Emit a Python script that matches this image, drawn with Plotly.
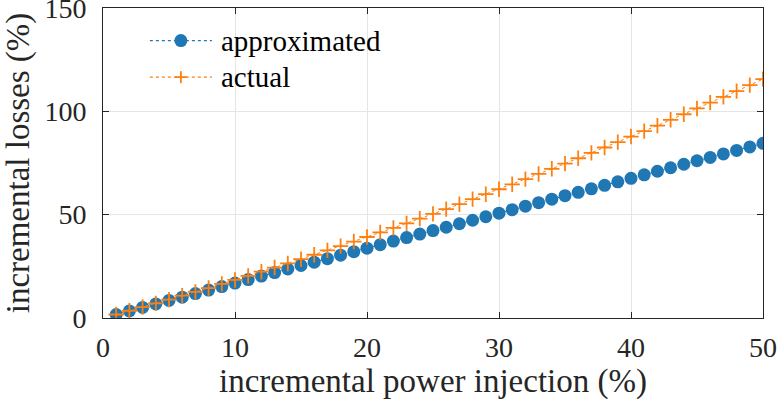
import plotly.graph_objects as go

# incremental power injection (%)
injection = list(range(1, 51))

# incremental losses (%) from the linear approximation
approximated = [
    1.7, 3.4, 5.1, 6.8, 8.5, 10.1, 11.8, 13.5, 15.2, 16.9,
    18.6, 20.3, 22.0, 23.7, 25.4, 27.0, 28.7, 30.4, 32.1, 33.8,
    35.5, 37.2, 38.9, 40.6, 42.3, 43.9, 45.6, 47.3, 49.0, 50.7,
    52.4, 54.1, 55.8, 57.5, 59.2, 60.8, 62.5, 64.2, 65.9, 67.6,
    69.3, 71.0, 72.7, 74.4, 76.1, 77.7, 79.4, 81.1, 82.8, 84.5,
]

# incremental losses (%) from the full power-flow solution
actual = [
    1.7, 3.5, 5.3, 7.1, 8.9, 10.8, 12.6, 14.5, 16.5, 18.4,
    20.4, 22.4, 24.4, 26.4, 28.5, 30.6, 32.7, 34.8, 37.0, 39.2,
    41.4, 43.6, 45.8, 48.1, 50.4, 52.7, 55.1, 57.5, 59.9, 62.3,
    64.7, 67.2, 69.7, 72.2, 74.7, 77.3, 79.9, 82.5, 85.1, 87.8,
    90.4, 93.1, 95.9, 98.6, 101.4, 104.2, 107.0, 109.8, 112.7, 115.6,
]

series_names = ["approximated", "actual"]
x_ticks = [0, 10, 20, 30, 40, 50]
y_ticks = [0, 50, 100, 150]

BLUE = "#1f77b4"
ORANGE = "#ff7f0e"
FONT = "Liberation Serif"
AXIS_COLOR = "#262626"

fig = go.Figure()
fig.add_trace(go.Scatter(
    x=injection, y=approximated, name=series_names[0],
    mode="lines+markers",
    line=dict(color=BLUE, width=1, dash="dot"),
    marker=dict(symbol="circle", size=13, color=BLUE),
))
fig.add_trace(go.Scatter(
    x=injection, y=actual, name=series_names[1],
    mode="lines+markers",
    line=dict(color=ORANGE, width=1, dash="dot"),
    marker=dict(symbol="cross-thin", size=11, color=ORANGE,
                line=dict(color=ORANGE, width=1.8)),
))

axis_common = dict(
    showline=True, linecolor=AXIS_COLOR, linewidth=1, mirror="ticks",
    ticks="inside", ticklen=6, tickcolor=AXIS_COLOR, tickwidth=1,
    showgrid=True, gridcolor="#e5e5e5", gridwidth=1,
    zeroline=False, ticklabeloverflow="allow", automargin=False,
    tickfont=dict(family=FONT, size=28, color=AXIS_COLOR),
    title_font=dict(family=FONT, size=33, color=AXIS_COLOR),
)

fig.update_xaxes(
    range=[0, 50], tickvals=x_ticks, ticklabelstandoff=4,
    title_text="incremental power injection (%)", title_standoff=7,
    **axis_common,
)
fig.update_yaxes(
    range=[0, 150], tickvals=y_ticks, ticklabelstandoff=10,
    title_text="incremental losses (%)", title_standoff=6,
    **axis_common,
)

# Legend drawn in the upper-left corner of the axes: dotted line with the
# series marker in the middle, followed by the series name.
legend_rows = [0.895, 0.777]
line_x0, line_x1, mark_x, text_x = 0.071, 0.165, 0.118, 0.176
for name, color, row in zip(series_names, [BLUE, ORANGE], legend_rows):
    fig.add_shape(type="line", xref="paper", yref="paper",
                  x0=line_x0, x1=line_x1, y0=row, y1=row,
                  line=dict(color=color, width=1.2, dash="dot"))
    fig.add_annotation(xref="paper", yref="paper", x=text_x, y=row,
                       xanchor="left", yanchor="middle", showarrow=False,
                       text=name, font=dict(family=FONT, size=29, color="black"))
# circle symbol for "approximated"
fig.add_shape(type="circle", xref="paper", yref="paper",
              xsizemode="pixel", ysizemode="pixel",
              xanchor=mark_x, yanchor=legend_rows[0],
              x0=-6.5, x1=6.5, y0=-6.5, y1=6.5,
              fillcolor=BLUE, line=dict(color=BLUE, width=0))
# plus symbol for "actual"
for dx, dy in [(6, 0), (0, 6)]:
    fig.add_shape(type="line", xref="paper", yref="paper",
                  xsizemode="pixel", ysizemode="pixel",
                  xanchor=mark_x, yanchor=legend_rows[1],
                  x0=-dx, x1=dx, y0=-dy, y1=dy,
                  line=dict(color=ORANGE, width=1.8))

fig.update_layout(
    width=779, height=408,
    margin=dict(l=103, r=16, t=8, b=90),
    paper_bgcolor="white", plot_bgcolor="white",
    font=dict(family=FONT, size=28, color=AXIS_COLOR),
    showlegend=False,
)

fig.write_html("out.html")
